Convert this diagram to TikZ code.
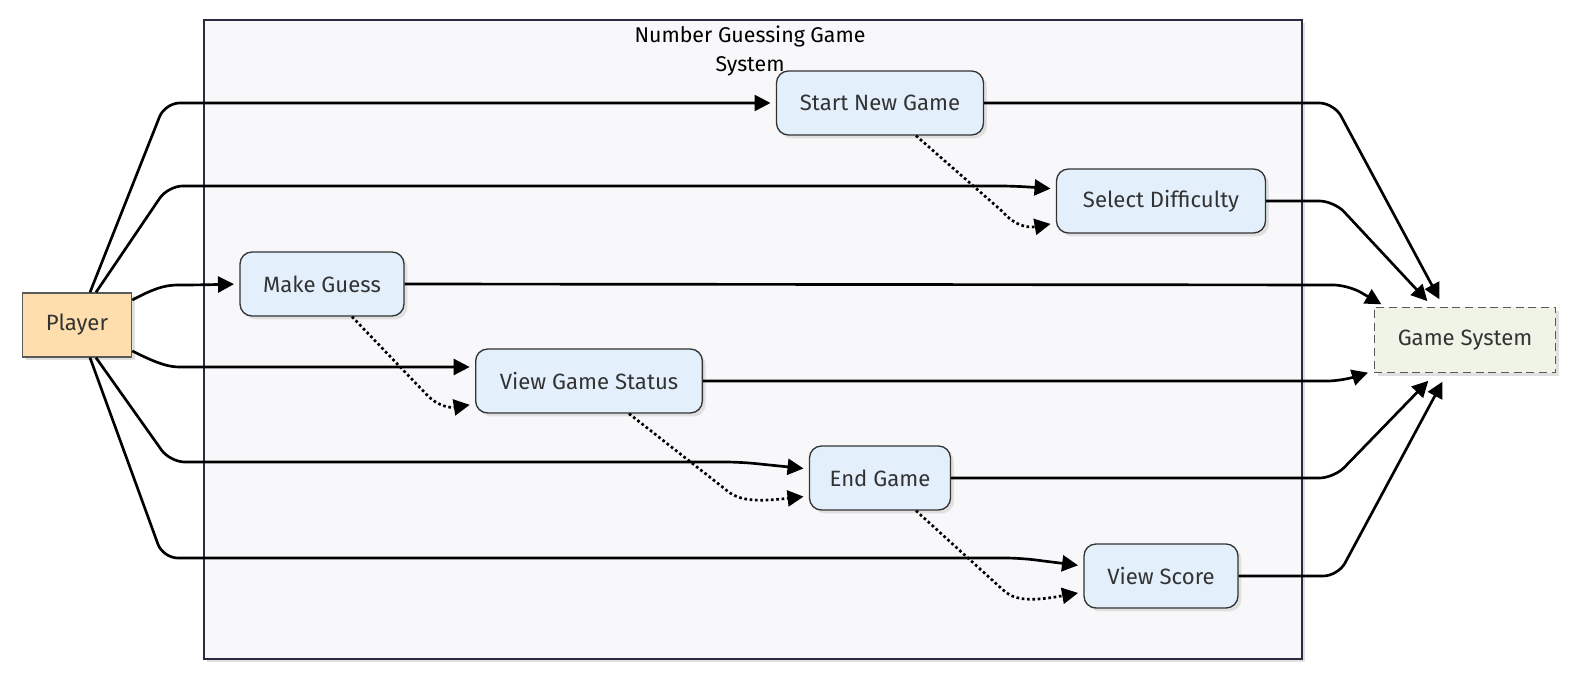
\documentclass[tikz,border=0pt]{standalone}
\usepackage{fontspec}
\setmainfont{Fira Sans}
\usetikzlibrary{arrows.meta,calc,shadows}
\definecolor{ucfill}{HTML}{E3F0FC}
\definecolor{ucdraw}{HTML}{333333}
\definecolor{plfill}{HTML}{FEDEAC}
\definecolor{gsfill}{HTML}{EFF4E7}
\definecolor{sysfill}{HTML}{F8F8FA}
\definecolor{sysdraw}{HTML}{2A2A40}
\definecolor{txt}{HTML}{333333}
\tikzset{
  shad/.style={drop shadow={shadow xshift=2.5pt,shadow yshift=-2.5pt,fill=black!12,opacity=1}},
  usecase/.style={draw=ucdraw,fill=ucfill,line width=1pt,rounded corners=9pt,minimum height=48pt,text=txt,font=\fontsize{16.6}{19}\selectfont,shad},
  actor/.style={draw=black!65,fill=plfill,line width=1pt,minimum width=82pt,minimum height=48pt,text=txt,font=\fontsize{16.6}{19}\selectfont,shad},
  extsys/.style={draw=black!65,fill=gsfill,line width=1pt,dash pattern=on 6pt off 3.5pt,minimum width=136pt,minimum height=49pt,text=txt,font=\fontsize{16.6}{19}\selectfont,shad},
  link/.style={line width=2pt,rounded corners=11pt,shorten >=4pt,-{Triangle[length=12pt,width=12pt]}},
  dep/.style={line width=2pt,dash pattern=on 2pt off 2pt,shorten >=4pt,-{Triangle[length=12pt,width=12pt]}},
}
\begin{document}
\begin{tikzpicture}[x=0.75pt,y=-0.75pt]
\useasboundingbox (0,0) rectangle (1578,685);
% system boundary
\node (sys) [draw=sysdraw,fill=sysfill,line width=2.2pt,minimum width=823.5pt,minimum height=479.25pt,shad] at (753,339.5) {};
\node (title) [align=center,font=\fontsize{16}{22}\selectfont] at (750,51) {Number Guessing Game\\System};
% nodes
\node (sng) [usecase,minimum width=155.25pt] at (880,103) {Start New Game};
\node (sd)  [usecase,minimum width=156.75pt] at (1161,201) {Select Difficulty};
\node (mg)  [usecase,minimum width=123pt] at (322,284) {Make Guess};
\node (vgs) [usecase,minimum width=170pt] at (589,381) {View Game Status};
\node (eg)  [usecase,minimum width=105.75pt] at (880,478) {End Game};
\node (vs)  [usecase,minimum width=115.5pt] at (1161,576) {View Score};
\node (pl)  [actor] at (77,325) {Player};
\node (gs)  [extsys] at (1465,340) {Game System};
% player -> use cases
\draw[link] ($(pl.north)+(13,0)$) -- (165,103) -- (sng.west);
\draw[link] ($(pl.north)+(19,0)$) -- (168,186) -- (1015,186) -- ($(sd.west)+(0,-12)$);
\draw[link] ($(pl.east)+(0,-25)$) .. controls (160,285) and (170,285) .. (195,285) -- (mg.west);
\draw[link] ($(pl.east)+(0,26)$) .. controls (160,365) and (170,367) .. (195,367) -- ($(vgs.west)+(0,-14)$);
\draw[link] ($(pl.south)+(19,0)$) -- (170,462) -- (740,462) -- ($(eg.west)+(0,-9)$);
\draw[link] ($(pl.south)+(13,0)$) -- (163,558) -- (1020,558) -- ($(vs.west)+(0,-10)$);
% use cases -> game system
\draw[link] (sng.east) -- (1334,103) -- (1442,304);
\draw[link] (sd.east) -- (1334,201) -- (1431,305);
\draw[link] (mg.east) -- (1348,285) -- (1386,307);
\draw[link] (vgs.east) -- (1342,381) -- (1373,371);
\draw[link] (eg.east) -- (1334,478) -- (1432,377);
\draw[link] (vs.east) -- (1338,576) -- (1445,377);
% dependencies
\draw[dep] ($(sng.south)+(36,0)$) -- (1003,212) .. controls (1015,226) and (1028,228) .. ($(sd.west)+(0,22)$);
\draw[dep] ($(mg.south)+(30,0)$) -- (428,396) .. controls (438,406) and (450,408) .. ($(vgs.west)+(0,23)$);
\draw[dep] ($(vgs.south)+(40,0)$) -- (725,489) .. controls (738,501) and (755,502) .. ($(eg.west)+(0,18)$);
\draw[dep] ($(eg.south)+(36,0)$) -- (1002,589) .. controls (1013,600) and (1028,602) .. ($(vs.west)+(0,16)$);
\end{tikzpicture}
\end{document}
